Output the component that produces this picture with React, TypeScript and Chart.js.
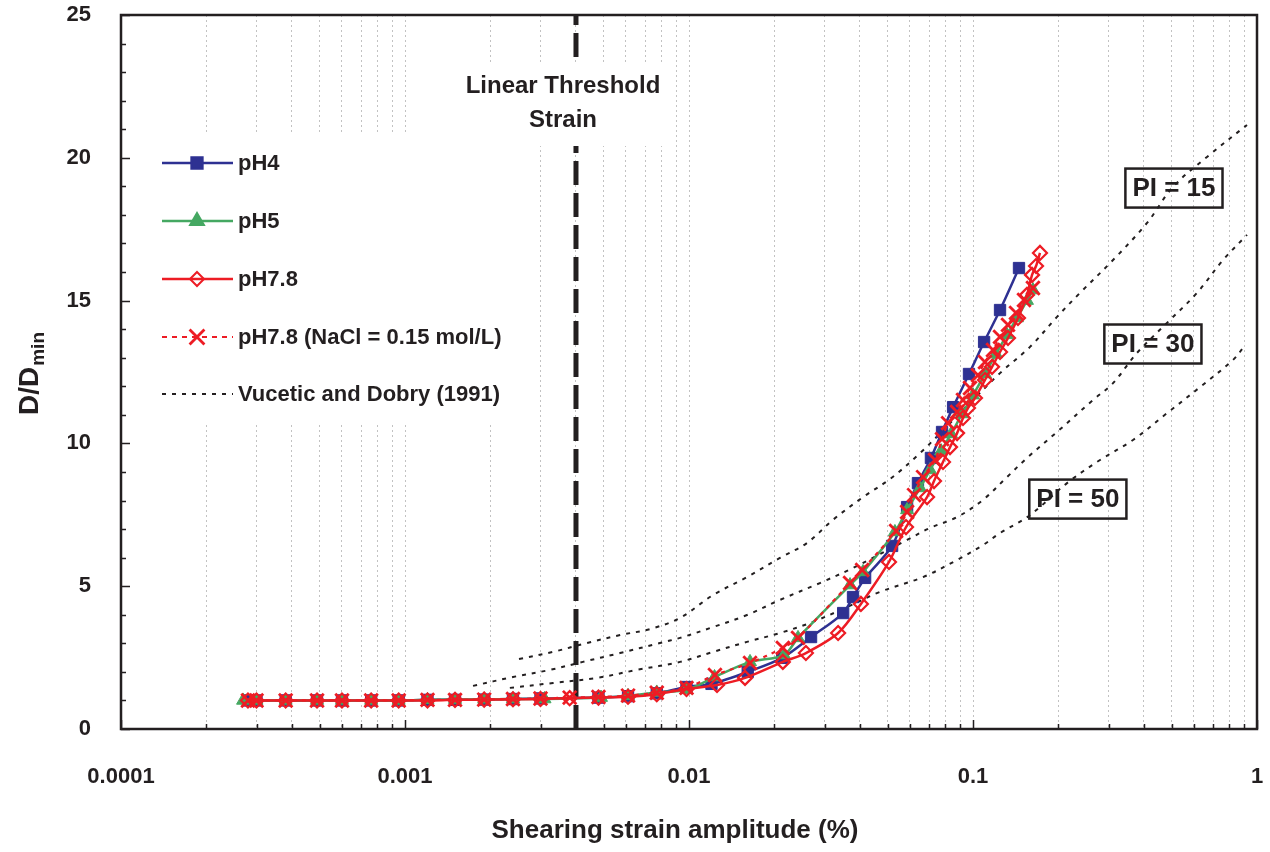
import { useEffect, useRef } from 'react';
import { Chart, registerables } from 'chart.js';

Chart.register(...registerables);

const FONT = "'Liberation Sans', Arial, Helvetica, sans-serif";
const INK = '#231f20';
const NAVY = '#2e3192';
const GREEN = '#45a862';
const RED = '#ed1c24';

// ---------- data ----------
const X_TICK_LABELS = ['0.0001', '0.001', '0.01', '0.1', '1'];
const Y_TICK_LABELS = ['0', '5', '10', '15', '20', '25'];
const SERIES_LABELS = ['pH4', 'pH5', 'pH7.8', 'pH7.8 (NaCl = 0.15 mol/L)', 'Vucetic and Dobry (1991)'];

const PH4_X = [0.00028, 0.0003, 0.00038, 0.00049, 0.0006, 0.00076, 0.00095, 0.0012, 0.0015, 0.0019, 0.0024, 0.003, 0.0048, 0.0061, 0.0077, 0.0098, 0.012, 0.0161, 0.0213, 0.0269, 0.0349, 0.0378, 0.0417, 0.0519, 0.0586, 0.064, 0.0711, 0.0778, 0.0851, 0.0968, 0.1094, 0.1245, 0.1452];
const PH4_Y = [1.0, 1.0, 1.0, 1.0, 1.0, 1.0, 1.0, 1.02, 1.02, 1.03, 1.05, 1.07, 1.1, 1.15, 1.25, 1.47, 1.58, 2.0, 2.49, 3.22, 4.06, 4.62, 5.29, 6.41, 7.77, 8.61, 9.49, 10.4, 11.27, 12.43, 13.55, 14.67, 16.14];

const PH5_X = [0.000269, 0.0003, 0.00038, 0.00049, 0.0006, 0.00076, 0.00095, 0.0012, 0.0015, 0.0019, 0.0024, 0.0031, 0.0049, 0.0061, 0.0077, 0.0098, 0.0123, 0.0164, 0.0216, 0.0242, 0.0369, 0.041, 0.0531, 0.0586, 0.0651, 0.0706, 0.0772, 0.0837, 0.0915, 0.1, 0.1102, 0.1205, 0.1317, 0.1428, 0.1549, 0.1626];
const PH5_Y = [1.0, 1.0, 1.0, 1.0, 1.0, 1.0, 1.0, 1.02, 1.03, 1.04, 1.05, 1.05, 1.1, 1.16, 1.28, 1.37, 1.82, 2.35, 2.59, 3.19, 5.04, 5.5, 6.9, 7.67, 8.44, 9.07, 9.73, 10.33, 11.03, 11.69, 12.43, 13.13, 13.8, 14.39, 15.0, 15.37];

const PH78_X = [0.00028, 0.0003, 0.00038, 0.00049, 0.0006, 0.00076, 0.00095, 0.0012, 0.0015, 0.0019, 0.0024, 0.003, 0.0038, 0.0048, 0.0061, 0.0077, 0.0098, 0.01255, 0.01575, 0.0214, 0.0258, 0.0335, 0.0403, 0.0506, 0.0581, 0.0689, 0.0729, 0.0784, 0.083, 0.0879, 0.0922, 0.096, 0.1016, 0.1102, 0.1167, 0.1245, 0.1328, 0.144, 0.1549, 0.1614, 0.1667, 0.1721];
const PH78_Y = [1.0, 1.0, 1.0, 1.0, 1.0, 1.0, 1.0, 1.0, 1.02, 1.03, 1.04, 1.05, 1.08, 1.1, 1.13, 1.22, 1.4, 1.54, 1.79, 2.35, 2.66, 3.36, 4.38, 5.85, 7.07, 8.12, 8.68, 9.35, 9.87, 10.36, 10.89, 11.24, 11.59, 12.22, 12.68, 13.2, 13.69, 14.39, 15.2, 15.9, 16.21, 16.67];

const NACL_X = [0.00028, 0.0003, 0.00038, 0.00049, 0.0006, 0.00076, 0.00095, 0.0012, 0.0015, 0.0019, 0.0024, 0.003, 0.0038, 0.0048, 0.0061, 0.0077, 0.0098, 0.01234, 0.0164, 0.0214, 0.0242, 0.0369, 0.0407, 0.0536, 0.0586, 0.062, 0.0667, 0.0735, 0.0778, 0.0817, 0.0879, 0.0922, 0.0976, 0.1041, 0.1102, 0.1176, 0.1245, 0.1328, 0.1417, 0.1512, 0.1626];
const NACL_Y = [1.0, 1.0, 1.0, 1.0, 1.0, 1.0, 1.0, 1.02, 1.02, 1.03, 1.05, 1.07, 1.1, 1.12, 1.17, 1.27, 1.44, 1.89, 2.31, 2.84, 3.19, 5.11, 5.57, 6.93, 7.6, 8.19, 8.82, 9.42, 10.15, 10.71, 11.1, 11.52, 11.94, 12.39, 12.85, 13.27, 13.73, 14.15, 14.57, 15.02, 15.44];

const VD15_X = [0.00252, 0.00332, 0.00437, 0.00572, 0.00729, 0.0093, 0.01215, 0.016, 0.0209, 0.026, 0.0321, 0.041, 0.051, 0.0651, 0.09, 0.1245, 0.1588, 0.1976, 0.2381, 0.3112, 0.41, 0.506, 0.6667, 0.922];
const VD15_Y = [2.45, 2.7, 3.01, 3.29, 3.5, 3.89, 4.69, 5.32, 5.99, 6.51, 7.32, 8.12, 8.75, 9.66, 11.06, 12.46, 13.38, 14.43, 15.27, 16.42, 17.72, 18.98, 20.03, 21.15];

const VD30_X = [0.001736, 0.0024, 0.00324, 0.00423, 0.00572, 0.0079, 0.0093, 0.01215, 0.016, 0.0209, 0.0289, 0.0378, 0.0586, 0.0706, 0.0879, 0.1084, 0.1317, 0.1549, 0.1976, 0.2646, 0.3112, 0.3781, 0.4821, 0.6148, 0.7591, 0.922];
const VD30_Y = [1.51, 1.82, 2.07, 2.35, 2.66, 3.01, 3.19, 3.57, 3.99, 4.52, 5.11, 5.64, 6.62, 7.04, 7.42, 8.02, 8.82, 9.49, 10.4, 11.52, 12.11, 13.17, 14.22, 15.27, 16.42, 17.3];

const VD50_X = [0.00234, 0.00332, 0.00474, 0.00656, 0.0093, 0.01215, 0.016, 0.0209, 0.0273, 0.036, 0.047, 0.0667, 0.0879, 0.1084, 0.1245, 0.1588, 0.2143, 0.2801, 0.366, 0.4821, 0.6299, 0.8232, 0.8928];
const VD50_Y = [1.44, 1.61, 1.79, 2.07, 2.35, 2.7, 3.05, 3.36, 3.75, 4.27, 4.8, 5.32, 5.92, 6.44, 6.86, 7.49, 8.61, 9.42, 10.12, 11.06, 11.97, 12.92, 13.34];

const PI_LABELS = ['PI = 15', 'PI = 30', 'PI = 50'];
const PI_LABEL_X = [0.51, 0.43, 0.234];
const PI_LABEL_Y = [18.94, 13.48, 8.05];

const THRESHOLD_STRAIN = 0.004;
const THRESHOLD_LABEL = ['Linear Threshold', 'Strain'];
const X_TITLE = 'Shearing strain amplitude (%)';
const Y_TITLE_MAIN = 'D/D';
const Y_TITLE_SUB = 'min';

// ---------- helpers ----------
const pts = (xs: number[], ys: number[]) => xs.map((x, i) => ({ x, y: ys[i] }));

const X_TICK_VALUES: number[] = (() => {
  const out: number[] = [];
  for (let e = -4; e < 0; e++) {
    for (let m = 1; m <= 9; m++) out.push(Number((m * Math.pow(10, e)).toPrecision(6)));
  }
  out.push(1);
  return out;
})();

const isDecade = (v: number) => Math.abs(Math.log10(v) - Math.round(Math.log10(v))) < 1e-6;

function drawMarker(ctx: CanvasRenderingContext2D, style: string, x: number, y: number, r: number, fill: string, stroke: string, lw: number) {
  ctx.save();
  ctx.beginPath();
  ctx.lineWidth = lw;
  ctx.strokeStyle = stroke;
  ctx.fillStyle = fill;
  if (style === 'rect') {
    const s = Math.SQRT1_2 * r;
    ctx.rect(x - s, y - s, 2 * s, 2 * s);
    ctx.fill();
    ctx.stroke();
  } else if (style === 'triangle') {
    const h = r;
    ctx.moveTo(x, y - h);
    ctx.lineTo(x + Math.sin(Math.PI / 3) * h, y + h / 2);
    ctx.lineTo(x - Math.sin(Math.PI / 3) * h, y + h / 2);
    ctx.closePath();
    ctx.fill();
    ctx.stroke();
  } else if (style === 'rectRot') {
    ctx.moveTo(x, y - r);
    ctx.lineTo(x + r, y);
    ctx.lineTo(x, y + r);
    ctx.lineTo(x - r, y);
    ctx.closePath();
    ctx.stroke();
  } else if (style === 'crossRot') {
    const d = Math.SQRT1_2 * r;
    ctx.moveTo(x - d, y - d);
    ctx.lineTo(x + d, y + d);
    ctx.moveTo(x + d, y - d);
    ctx.lineTo(x - d, y + d);
    ctx.stroke();
  }
  ctx.restore();
}

const LEGEND_STYLES = [
  { color: NAVY, dash: [] as number[], marker: 'rect', r: 8, fill: NAVY, lw: 2.5 },
  { color: GREEN, dash: [] as number[], marker: 'triangle', r: 8, fill: GREEN, lw: 2.5 },
  { color: RED, dash: [] as number[], marker: 'rectRot', r: 7, fill: 'rgba(0,0,0,0)', lw: 2.5 },
  { color: RED, dash: [5, 5], marker: 'crossRot', r: 10.5, fill: RED, lw: 2.2 },
  { color: INK, dash: [4, 6], marker: '', r: 0, fill: INK, lw: 2 },
];

const zeroPadding = (s: any) => {
  s.paddingLeft = 0;
  s.paddingRight = 0;
  s.paddingTop = 0;
  s.paddingBottom = 0;
};

const decorPlugin = {
  id: 'decor',
  afterDatasetsDraw(chart: any) {
    const { ctx, chartArea: a, scales } = chart;
    const xs = scales.x;
    const ys = scales.y;
    ctx.save();

    // legend panel
    ctx.fillStyle = '#ffffff';
    ctx.fillRect(a.left + 1.5, 132, 408, 293);
    const rowY = [163, 221, 279, 337, 394];
    SERIES_LABELS.forEach((label, i) => {
      const st = LEGEND_STYLES[i];
      const y = rowY[i];
      ctx.save();
      ctx.strokeStyle = st.color;
      ctx.lineWidth = st.lw;
      ctx.setLineDash(st.dash);
      ctx.beginPath();
      ctx.moveTo(162, y);
      ctx.lineTo(233, y);
      ctx.stroke();
      ctx.restore();
      if (st.marker) drawMarker(ctx, st.marker, 197, y, st.r, st.fill, st.color, st.marker === 'crossRot' ? 2.8 : 2);
      ctx.fillStyle = INK;
      ctx.font = `bold 22px ${FONT}`;
      ctx.textAlign = 'left';
      ctx.textBaseline = 'middle';
      ctx.fillText(label, 238, y + 1);
    });

    // threshold label
    const tx = xs.getPixelForValue(THRESHOLD_STRAIN);
    ctx.fillStyle = '#ffffff';
    ctx.fillRect(tx - 115, 62, 208, 84);
    ctx.fillStyle = INK;
    ctx.font = `bold 24px ${FONT}`;
    ctx.textAlign = 'center';
    ctx.textBaseline = 'middle';
    ctx.fillText(THRESHOLD_LABEL[0], tx - 13, 86);
    ctx.fillText(THRESHOLD_LABEL[1], tx - 13, 120);

    // PI boxes
    ctx.font = `bold 26px ${FONT}`;
    PI_LABELS.forEach((lab, i) => {
      const cx = xs.getPixelForValue(PI_LABEL_X[i]);
      const cy = ys.getPixelForValue(PI_LABEL_Y[i]);
      const w = ctx.measureText(lab).width + 14;
      const h = 39;
      ctx.lineWidth = 2.5;
      ctx.strokeStyle = INK;
      ctx.strokeRect(cx - w / 2, cy - h / 2, w, h);
      ctx.fillStyle = INK;
      ctx.textAlign = 'center';
      ctx.textBaseline = 'middle';
      ctx.fillText(lab, cx, cy + 1);
    });

    // inward tick marks
    ctx.strokeStyle = INK;
    ctx.lineWidth = 1.5;
    ctx.beginPath();
    X_TICK_VALUES.forEach((v) => {
      const px = Math.round(xs.getPixelForValue(v)) + 0.5;
      const len = isDecade(v) ? 9 : 5;
      ctx.moveTo(px, a.bottom);
      ctx.lineTo(px, a.bottom - len);
    });
    for (let v = 0; v <= 25; v++) {
      const py = Math.round(ys.getPixelForValue(v)) + 0.5;
      const len = v % 5 === 0 ? 9 : 5;
      ctx.moveTo(a.left, py);
      ctx.lineTo(a.left + len, py);
    }
    ctx.stroke();

    // frame
    ctx.lineWidth = 2.5;
    ctx.strokeStyle = INK;
    ctx.strokeRect(a.left, a.top, a.right - a.left, a.bottom - a.top);

    // axis titles
    ctx.fillStyle = INK;
    ctx.font = `bold 26px ${FONT}`;
    ctx.textAlign = 'center';
    ctx.textBaseline = 'middle';
    ctx.fillText(X_TITLE, 675, 831);

    ctx.save();
    ctx.translate(38, 374);
    ctx.rotate(-Math.PI / 2);
    ctx.textAlign = 'left';
    ctx.textBaseline = 'alphabetic';
    ctx.font = `bold 28px ${FONT}`;
    const w1 = ctx.measureText(Y_TITLE_MAIN).width;
    ctx.font = `bold 19px ${FONT}`;
    const w2 = ctx.measureText(Y_TITLE_SUB).width;
    const start = -(w1 + w2) / 2;
    ctx.font = `bold 28px ${FONT}`;
    ctx.fillText(Y_TITLE_MAIN, start, 0);
    ctx.font = `bold 19px ${FONT}`;
    ctx.fillText(Y_TITLE_SUB, start + w1 + 1, 6);
    ctx.restore();

    ctx.restore();
  },
};

export default function App() {
  const canvasRef = useRef<HTMLCanvasElement | null>(null);

  useEffect(() => {
    const canvas = canvasRef.current;
    if (!canvas) return;
    const vdStyle = {
      borderColor: INK,
      borderWidth: 2,
      borderDash: [4, 6],
      pointRadius: 0,
      tension: 0.35,
      fill: false,
      order: 4,
    };
    const chart = new Chart(canvas, {
      type: 'line',
      data: {
        datasets: [
          {
            label: SERIES_LABELS[0],
            data: pts(PH4_X, PH4_Y),
            borderColor: NAVY,
            backgroundColor: NAVY,
            borderWidth: 2.5,
            pointStyle: 'rect',
            pointRadius: 8,
            pointBorderWidth: 1,
            tension: 0.3,
            order: 3,
          },
          {
            label: SERIES_LABELS[1],
            data: pts(PH5_X, PH5_Y),
            borderColor: GREEN,
            backgroundColor: GREEN,
            borderWidth: 2.5,
            pointStyle: 'triangle',
            pointRadius: 7.5,
            pointBorderWidth: 1,
            tension: 0.3,
            order: 2,
          },
          {
            label: SERIES_LABELS[2],
            data: pts(PH78_X, PH78_Y),
            borderColor: RED,
            backgroundColor: 'rgba(0,0,0,0)',
            borderWidth: 2.5,
            pointStyle: 'rectRot',
            pointRadius: 7,
            pointBorderWidth: 2.2,
            tension: 0.3,
            order: 1,
          },
          {
            label: SERIES_LABELS[3],
            data: pts(NACL_X, NACL_Y),
            borderColor: RED,
            backgroundColor: RED,
            borderWidth: 2.2,
            borderDash: [4, 5],
            pointStyle: 'crossRot',
            pointRadius: 9.5,
            pointBorderWidth: 2.8,
            tension: 0.3,
            order: 0,
          },
          { label: SERIES_LABELS[4], data: pts(VD15_X, VD15_Y), ...vdStyle },
          { label: SERIES_LABELS[4], data: pts(VD30_X, VD30_Y), ...vdStyle },
          { label: SERIES_LABELS[4], data: pts(VD50_X, VD50_Y), ...vdStyle },
          {
            label: 'threshold',
            data: [
              { x: THRESHOLD_STRAIN, y: 0 },
              { x: THRESHOLD_STRAIN, y: 25 },
            ],
            borderColor: INK,
            borderWidth: 5,
            borderDash: [24, 8],
            pointRadius: 0,
            tension: 0,
            order: 5,
          },
        ] as any,
      },
      options: {
        responsive: false,
        animation: false,
        devicePixelRatio: 1,
        layout: { padding: { top: 15, right: 13, left: 0, bottom: 0 } },
        plugins: {
          legend: { display: false },
          tooltip: { enabled: false },
          title: { display: false },
        },
        scales: {
          x: {
            type: 'logarithmic',
            position: 'bottom',
            min: 0.0001,
            max: 1,
            afterBuildTicks: (s: any) => {
              s.ticks = X_TICK_VALUES.map((v) => ({ value: v, major: isDecade(v) }));
            },
            afterFit: (s: any) => {
              s.height = 123;
              zeroPadding(s);
            },
            ticks: {
              autoSkip: false,
              maxRotation: 0,
              minRotation: 0,
              padding: 35,
              color: INK,
              font: { family: FONT, size: 22, weight: 'bold' },
              callback: (v: any) => {
                const n = Number(v);
                if (!isDecade(n)) return '';
                const idx = Math.round(Math.log10(n)) + 4;
                return X_TICK_LABELS[idx] ?? '';
              },
            },
            grid: { color: '#c2c2c2', lineWidth: 1, drawTicks: false, drawOnChartArea: true },
            border: { display: false, dash: [2, 3] },
          },
          y: {
            type: 'linear',
            position: 'left',
            min: 0,
            max: 25,
            afterFit: (s: any) => {
              s.width = 121;
              zeroPadding(s);
            },
            ticks: {
              stepSize: 1,
              autoSkip: false,
              padding: 30,
              color: INK,
              font: { family: FONT, size: 22, weight: 'bold' },
              callback: (v: any) => {
                const n = Number(v);
                return n % 5 === 0 ? Y_TICK_LABELS[n / 5] : '';
              },
            },
            grid: { drawOnChartArea: false, drawTicks: false },
            border: { display: false },
          },
        },
      } as any,
      plugins: [decorPlugin],
    });
    return () => chart.destroy();
  }, []);

  return (
    <div style={{ position: 'fixed', left: 0, top: 0, width: 1270, height: 852, background: '#fff' }}>
      <canvas ref={canvasRef} width={1270} height={852} style={{ width: 1270, height: 852, display: 'block' }} />
    </div>
  );
}
